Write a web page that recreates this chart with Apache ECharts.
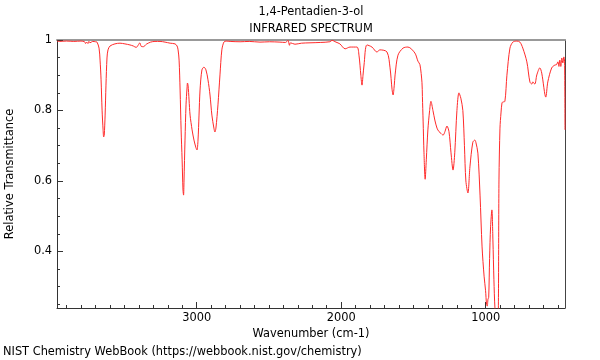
<!DOCTYPE html>
<html><head><meta charset="utf-8">
<script src="https://cdn.jsdelivr.net/npm/echarts@6/dist/echarts.min.js"></script>
<style>html,body{margin:0;padding:0;background:#fff}#c{width:600px;height:360px}</style>
</head><body><div id="c"></div>
<script>
// Wavenumber (cm-1), descending
var wavenumbers = [3967,3951,3901,3851,3801,3776,3769,3761,3753,3746,3739,3720,3700,3690,3676,3669,3662,3655,3648,3644,3640,3634,3628,3621,3614,3600,3566,3531,3497,3462,3439,3419,3404,3394,3384,3369,3349,3319,3289,3254,3219,3184,3150,3136,3129,3122,3115,3108,3101,3095,3091,3088,3081,3074,3067,3064,3060,3053,3046,3032,3019,3005,2998,2991,2984,2977,2964,2950,2936,2922,2908,2895,2881,2874,2867,2853,2839,2826,2812,2797,2769,2700,2637,2562,2496,2424,2386,2368,2358,2351,2320,2275,2216,2145,2078,2064,2036,2009,1973,1939,1891,1877,1864,1856,1849,1842,1822,1787,1753,1732,1683,1662,1648,1641,1633,1627,1607,1572,1538,1490,1469,1455,1441,1438,1433,1427,1419,1411,1400,1388,1379,1365,1352,1337,1323,1309,1295,1282,1268,1254,1240,1226,1214,1199,1185,1172,1158,1147,1137,1123,1109,1089,1075,1068,1054,1039,1025,1011,1001,994,989,984,979,973,966,957,950,943,936,926,915,908,901,894,887,881,867,853,832,812,784,763,743,715,694,681,674,660,646,625,612,584,570,543,521,510,500,493,487,480,473,466,459,454,451];
// Relative transmittance
var transmittance = [0.997,0.996,0.997,0.996,0.997,0.995,0.990,0.994,0.990,0.996,0.992,0.996,0.995,0.994,0.977,0.943,0.887,0.801,0.745,0.725,0.730,0.787,0.872,0.949,0.972,0.983,0.989,0.991,0.989,0.986,0.983,0.979,0.986,0.992,0.982,0.981,0.988,0.994,0.996,0.996,0.994,0.991,0.989,0.983,0.972,0.943,0.858,0.745,0.660,0.574,0.560,0.600,0.716,0.816,0.864,0.878,0.872,0.830,0.787,0.745,0.716,0.694,0.688,0.716,0.787,0.858,0.915,0.923,0.915,0.887,0.844,0.787,0.750,0.739,0.750,0.816,0.901,0.972,0.994,0.997,0.996,0.995,0.996,0.994,0.995,0.994,0.993,0.999,0.985,0.992,0.988,0.991,0.992,0.993,0.995,0.999,0.994,0.989,0.975,0.980,0.980,0.957,0.900,0.872,0.900,0.929,0.986,0.980,0.966,0.972,0.966,0.921,0.860,0.844,0.870,0.901,0.957,0.977,0.980,0.963,0.940,0.930,0.880,0.840,0.770,0.680,0.605,0.660,0.745,0.800,0.826,0.800,0.773,0.750,0.740,0.735,0.730,0.740,0.756,0.740,0.680,0.631,0.680,0.800,0.850,0.835,0.800,0.700,0.600,0.566,0.640,0.710,0.716,0.710,0.679,0.560,0.413,0.330,0.290,0.250,0.245,0.265,0.270,0.380,0.470,0.518,0.433,0.320,0.240,0.200,0.200,0.603,0.750,0.793,0.822,0.824,0.826,0.900,0.977,0.994,0.997,0.994,0.977,0.938,0.881,0.875,0.881,0.875,0.901,0.921,0.906,0.838,0.881,0.921,0.929,0.930,0.938,0.925,0.943,0.925,0.949,0.935,0.952,0.940,0.745];
var xLabelTicks = [1000,2000,3000];
var yLabelTicks = [0.4,0.6,0.8,1];
var xMinorTicks = [];
for (var v = 500; v <= 3900; v += 100) xMinorTicks.push(v);
var yMinorTicks = [0.25,0.3,0.35,0.45,0.5,0.55,0.65,0.7,0.75,0.85,0.9,0.95];

var data = wavenumbers.map(function(w,i){return [w, transmittance[i]];});
var XMIN = 451, XMAX = 3967, YMIN = 0.2397, YMAX = 1;
var font = 'DejaVu Sans';
var fs = 11.4;
var chart = echarts.init(document.getElementById('c'), null, {renderer:'canvas'});
chart.setOption({
  animation:false,
  backgroundColor:'#fff',
  grid:{left:57,right:35,top:40,bottom:52,containLabel:false,outerBoundsMode:'none'},
  graphic:[
    {type:'text',x:311,y:12,style:{text:'1,4-Pentadien-3-ol',font:fs+'px '+font,fill:'#000',textAlign:'center',textVerticalAlign:'middle'}},
    {type:'text',x:311,y:29,style:{text:'INFRARED SPECTRUM',font:fs+'px '+font,fill:'#000',textAlign:'center',textVerticalAlign:'middle'}},
    {type:'text',x:3,y:352,style:{text:'NIST Chemistry WebBook (https://webbook.nist.gov/chemistry)',font:fs+'px '+font,fill:'#000',textAlign:'left',textVerticalAlign:'middle'}},
    {type:'text',x:10,y:174,rotation:Math.PI/2,style:{text:'Relative Transmittance',font:fs+'px '+font,fill:'#000',textAlign:'center',textVerticalAlign:'middle'}}
  ],
  xAxis:[
    {type:'value',min:XMIN,max:XMAX,inverse:true,position:'bottom',
     axisLine:{show:true,lineStyle:{color:'#333',width:1}},
     axisTick:{show:true,inside:true,length:6,customValues:xLabelTicks,lineStyle:{color:'#333'}},
     axisLabel:{show:true,customValues:xLabelTicks,color:'#000',fontSize:fs,fontFamily:font,margin:5,formatter:function(v){return String(v);}},
     splitLine:{show:false},
     name:'Wavenumber (cm-1)',nameLocation:'middle',nameGap:19,nameTextStyle:{color:'#000',fontSize:fs,fontFamily:font}},
    {type:'value',min:XMIN,max:XMAX,inverse:true,position:'bottom',
     axisLine:{show:false},
     axisTick:{show:true,inside:true,length:3,customValues:xMinorTicks,lineStyle:{color:'#333'}},
     axisLabel:{show:false},splitLine:{show:false}},
    {type:'value',min:XMIN,max:XMAX,inverse:true,position:'top',
     axisLine:{show:true,lineStyle:{color:'#999',width:2}},
     axisTick:{show:false},axisLabel:{show:false},splitLine:{show:false}}
  ],
  yAxis:[
    {type:'value',min:YMIN,max:YMAX,position:'left',
     axisLine:{show:true,lineStyle:{color:'#333',width:1}},
     axisTick:{show:true,inside:true,length:6,customValues:yLabelTicks,lineStyle:{color:'#333'}},
     axisLabel:{show:true,customValues:yLabelTicks,color:'#000',fontSize:fs,fontFamily:font,margin:5,formatter:function(v){return String(v);}},
     splitLine:{show:false}},
    {type:'value',min:YMIN,max:YMAX,position:'left',
     axisLine:{show:false},
     axisTick:{show:true,inside:true,length:3,customValues:yMinorTicks,lineStyle:{color:'#333'}},
     axisLabel:{show:false},splitLine:{show:false}},
    {type:'value',min:YMIN,max:YMAX,position:'right',
     axisLine:{show:true,lineStyle:{color:'#444',width:1}},
     axisTick:{show:false},axisLabel:{show:false},splitLine:{show:false}}
  ],
  series:[{type:'line',xAxisIndex:0,yAxisIndex:0,data:data,showSymbol:false,symbol:'none',smooth:0.3,clip:true,
    lineStyle:{color:'#ff2a2a',width:1}}]
});
</script></body></html>
